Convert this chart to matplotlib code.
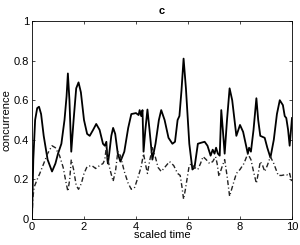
import matplotlib
matplotlib.use("Agg")
import matplotlib.pyplot as plt

plt.rcParams['font.family'] = ['Liberation Sans', 'DejaVu Sans']

# solid curve
t_solid = [0, 0.05, 0.12, 0.2, 0.27, 0.35, 0.45, 0.6, 0.77, 0.9, 1.0, 1.13, 1.25, 1.33, 1.38, 1.44, 1.51, 1.6, 1.7, 1.79, 1.88, 2.0, 2.12, 2.22, 2.35, 2.47, 2.6, 2.73,
           2.8, 2.86, 2.9, 2.92, 2.97, 3.05, 3.12, 3.2, 3.3, 3.4, 3.55, 3.7, 3.82, 4.0, 4.1, 4.14, 4.2, 4.25, 4.29, 4.36, 4.44, 4.52, 4.63,
           4.75, 4.88, 4.97, 5.1, 5.25, 5.4, 5.5, 5.6, 5.67, 5.75, 5.83, 5.92, 6.05, 6.17, 6.25, 6.38, 6.5, 6.64, 6.75, 6.87,
           6.95, 7.02, 7.08, 7.15, 7.22, 7.28, 7.34, 7.41, 7.5, 7.6, 7.7, 7.86, 8.0, 8.12, 8.3, 8.35, 8.42, 8.52, 8.63,
           8.7, 8.78, 8.95, 9.05, 9.17, 9.3, 9.42, 9.53, 9.65, 9.72, 9.78, 9.85, 9.91, 10.0]
c_solid = [0.0, 0.3, 0.5, 0.56, 0.567, 0.53, 0.42, 0.3, 0.24, 0.28, 0.33, 0.38, 0.5, 0.62, 0.735, 0.6, 0.34, 0.5, 0.66, 0.69, 0.64, 0.5, 0.43, 0.42, 0.45, 0.48, 0.45, 0.38,
           0.37, 0.39, 0.3, 0.28, 0.33, 0.42, 0.46, 0.43, 0.33, 0.29, 0.34, 0.46, 0.53, 0.535, 0.525, 0.55, 0.52, 0.55, 0.34, 0.45, 0.553, 0.45, 0.3,
           0.38, 0.5, 0.55, 0.5, 0.41, 0.38, 0.39, 0.5, 0.52, 0.65, 0.81, 0.66, 0.38, 0.25, 0.26, 0.38, 0.385, 0.39, 0.37, 0.32,
           0.35, 0.33, 0.36, 0.33, 0.32, 0.55, 0.45, 0.33, 0.5, 0.66, 0.6, 0.42, 0.475, 0.44, 0.33, 0.36, 0.34, 0.45, 0.61,
           0.5, 0.42, 0.41, 0.36, 0.31, 0.4, 0.53, 0.6, 0.575, 0.52, 0.51, 0.45, 0.37, 0.51]

# dash-dot curve
t_dash = [0, 0.03, 0.08, 0.2, 0.3, 0.45, 0.6, 0.77, 0.9, 1.06, 1.2, 1.3, 1.38, 1.45, 1.51, 1.6, 1.7, 1.79, 1.9, 2.0, 2.12, 2.3, 2.45, 2.6, 2.73,
          2.8, 2.86, 2.92, 3.0, 3.12, 3.22, 3.3, 3.4, 3.55, 3.7, 3.82, 3.95, 4.1, 4.2, 4.29, 4.36, 4.44, 4.52, 4.63, 4.75, 4.85, 4.97,
          5.1, 5.29, 5.45, 5.6, 5.7, 5.77, 5.83, 5.9, 6.04, 6.12, 6.25, 6.38, 6.48, 6.58, 6.7, 6.83, 6.95, 7.06, 7.12, 7.19, 7.3,
          7.41, 7.5, 7.6, 7.7, 7.86, 8.0, 8.15, 8.3, 8.42, 8.52, 8.63, 8.7, 8.78, 8.87, 8.95, 9.05, 9.17, 9.3, 9.47, 9.6, 9.78, 9.85, 9.91, 10.0]
c_dash = [0.0, 0.1, 0.16, 0.2, 0.23, 0.28, 0.33, 0.37, 0.36, 0.32, 0.26, 0.19, 0.14, 0.2, 0.3, 0.25, 0.17, 0.15, 0.18, 0.23, 0.265, 0.27, 0.255, 0.27, 0.28,
          0.3, 0.365, 0.3, 0.25, 0.19, 0.25, 0.34, 0.32, 0.24, 0.18, 0.15, 0.16, 0.22, 0.265, 0.33, 0.28, 0.23, 0.29, 0.36, 0.31, 0.26, 0.24,
          0.26, 0.29, 0.27, 0.23, 0.22, 0.16, 0.1, 0.15, 0.265, 0.28, 0.26, 0.25, 0.28, 0.315, 0.3, 0.28, 0.29, 0.315, 0.28, 0.215, 0.26,
          0.3, 0.22, 0.115, 0.16, 0.23, 0.25, 0.28, 0.33, 0.3, 0.24, 0.18, 0.23, 0.29, 0.27, 0.24, 0.27, 0.315, 0.28, 0.22, 0.22, 0.225, 0.22, 0.23, 0.18]

fig = plt.figure(figsize=(3.0, 2.45), dpi=100)
ax = fig.add_axes([32 / 300, 26 / 245, 260 / 300, 198 / 245])

ax.plot(t_solid, c_solid, color='black', lw=1.3, solid_joinstyle='round')
ax.plot(t_dash, c_dash, color='#222222', lw=1.0, linestyle=(0, (3.5, 1.8, 0.8, 1.8)))

ax.set_xlim(0, 10)
ax.set_ylim(0, 1)
ax.set_xticks([0, 2, 4, 6, 8, 10])
ax.set_yticks([0, 0.2, 0.4, 0.6, 0.8, 1])
ax.set_yticklabels(['0', '0.2', '0.4', '0.6', '0.8', '1'])
ax.tick_params(direction='in', length=2.5, width=0.5, labelsize=8, top=True, right=True, pad=2)
for s in ax.spines.values():
    s.set_linewidth(0.6)
ax.set_xlabel('scaled time', fontsize=8, labelpad=-1)
ax.set_ylabel('concurrence', fontsize=8, labelpad=2)
ax.set_title('c', fontsize=8, fontweight='bold', pad=5)

fig.savefig('out.png', dpi=100)
